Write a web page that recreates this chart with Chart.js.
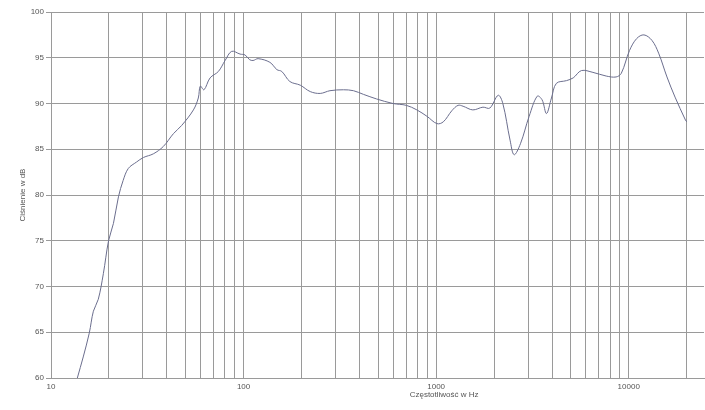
<!DOCTYPE html>
<html>
<head>
<meta charset="utf-8">
<script src="https://cdn.jsdelivr.net/npm/chart.js@4/dist/chart.umd.min.js"></script>
<style>
html,body{margin:0;padding:0;background:#fff;}
#wrap{width:705px;height:410px;position:relative;}
</style>
</head>
<body>
<div id="wrap"><canvas id="c" width="705" height="410"></canvas></div>
<script>
const freqHz = [13.7,14.7,15.8,16.6,17.6,18.7,19.9,21.1,22.4,23.7,25.2,27.8,30.2,34.0,38.3,43.2,47.7,54.9,58.2,59.6,62.3,67.0,74.0,80.2,86.7,95.9,101.9,107.3,112,119,137,149,158,174,197,222,250,281,330,372,419,490,597,700,794,896,1010,1090,1205,1300,1380,1550,1750,1900,2100,2220,2420,2540,2740,3040,3350,3550,3740,3970,4210,4750,5150,5680,6520,7640,8600,9150,10100,11000,12000,13200,14300,15800,17400,19700,20000];
const splDb = [60.0,62.3,64.9,67.3,68.6,71.4,75.0,76.9,79.8,81.6,82.9,83.6,84.1,84.5,85.3,86.7,87.6,89.3,90.6,91.9,91.5,92.8,93.5,94.7,95.7,95.4,95.3,94.8,94.7,94.9,94.5,93.7,93.5,92.4,92.0,91.3,91.1,91.4,91.5,91.4,91.0,90.5,90.0,89.8,89.3,88.6,87.8,88.0,89.2,89.8,89.7,89.3,89.6,89.5,90.9,90.0,86.0,84.4,85.6,88.6,90.8,90.4,88.9,90.6,92.2,92.5,92.8,93.6,93.4,93.0,92.9,93.3,95.8,97.1,97.5,96.9,95.5,92.9,90.7,88.2,88.0];
const xGridTicks = [10,20,30,40,50,60,70,80,90,100,200,300,400,500,600,700,800,900,1000,2000,3000,4000,5000,6000,7000,8000,9000,10000,20000];
const xLabelTicks = [10,100,1000,10000];
const yTicks = [60,65,70,75,80,85,90,95,100];
const xTitle = 'Częstotliwość w Hz';
const yTitle = 'Ciśnienie w dB';

const points = freqHz.map((f,i)=>({x:f,y:splDb[i]}));
const gridCol = '#9a9a9a';
const fontFam = '"Liberation Sans", Arial, sans-serif';
const tickFont = {family:fontFam, size:8};

const xTitlePlugin = {
  id:'xTitlePlugin',
  afterDraw(chart){
    const ctx = chart.ctx, xs = chart.scales.x;
    ctx.save();
    ctx.font = '8px ' + fontFam;
    ctx.fillStyle = '#555';
    ctx.textAlign = 'center';
    ctx.textBaseline = 'middle';
    ctx.fillText(xTitle, xs.getPixelForValue(1100), 395);
    ctx.restore();
  }
};

new Chart(document.getElementById('c'), {
  type:'line',
  data:{datasets:[{data:points,borderColor:'#6b6e8e',borderWidth:1,pointRadius:0,tension:0.35,fill:false}]},
  options:{
    responsive:false,animation:false,
    layout:{padding:{top:12,right:1,left:0,bottom:0}},
    plugins:{legend:{display:false},tooltip:{enabled:false}},
    scales:{
      x:{
        type:'logarithmic',min:10,max:24600,
        afterBuildTicks:(s)=>{s.ticks = xGridTicks.map(v=>({value:v}));},
        afterFit:(s)=>{s.height=32;},
        grid:{color:gridCol,lineWidth:1,drawTicks:false},
        border:{color:gridCol,width:1},
        ticks:{autoSkip:false,maxRotation:0,padding:4,color:'#555',font:tickFont,
          callback:(v)=> xLabelTicks.includes(v) ? String(v) : ''},
        title:{display:false}
      },
      y:{
        min:60,max:100,
        afterBuildTicks:(s)=>{s.ticks = yTicks.map(v=>({value:v}));},
        afterFit:(s)=>{s.width=51;},
        grid:{color:gridCol,lineWidth:1,drawTicks:true,tickLength:5},
        border:{color:gridCol,width:1},
        ticks:{padding:2,color:'#555',font:tickFont},
        title:{display:true,text:yTitle,color:'#555',font:tickFont,padding:{top:18,bottom:0}}
      }
    }
  },
  plugins:[xTitlePlugin]
});
</script>
</body>
</html>
